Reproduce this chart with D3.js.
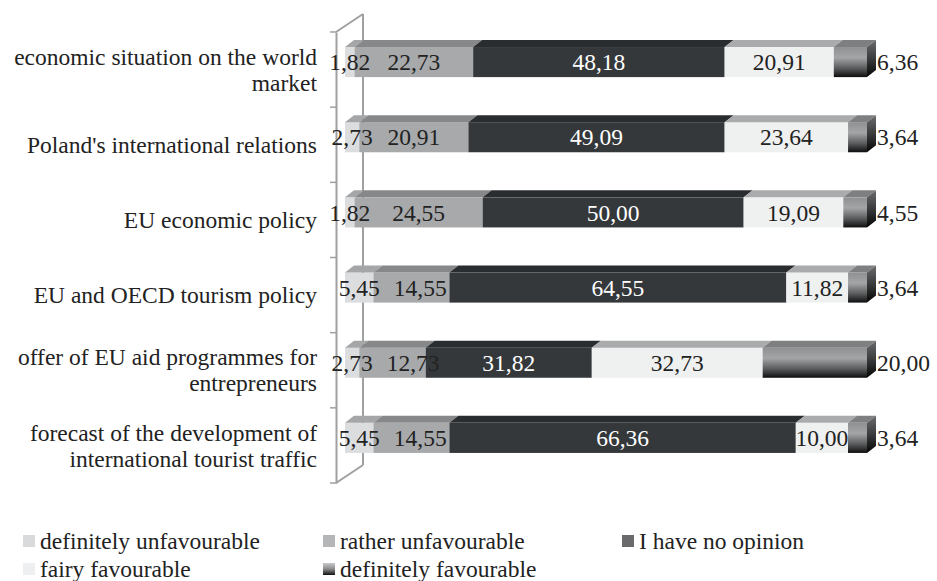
<!DOCTYPE html>
<html>
<head>
<meta charset="utf-8">
<script src="https://cdn.jsdelivr.net/npm/d3@7"></script>
</head>
<body style="margin:0">
<svg id="viz" width="937" height="581"></svg>
<script>
const categories = [
    "economic situation on the world market",
    "Poland's international relations",
    "EU economic policy",
    "EU and OECD tourism policy",
    "offer of EU aid programmes for entrepreneurs",
    "forecast of the development of international tourist traffic"
];
const seriesNames = ["definitely unfavourable", "rather unfavourable", "I have no opinion",
                     "fairy favourable", "definitely favourable"];
const definitelyUnfav = [1.82, 2.73, 1.82, 5.45, 2.73, 5.45];
const ratherUnfav     = [22.73, 20.91, 24.55, 14.55, 12.73, 14.55];
const noOpinion       = [48.18, 49.09, 50.00, 64.55, 31.82, 66.36];
const fairyFav        = [20.91, 23.64, 19.09, 11.82, 32.73, 10.00];
const definitelyFav   = [6.36, 3.64, 4.55, 3.64, 20.00, 3.64];

const series = [definitelyUnfav, ratherUnfav, noOpinion, fairyFav, definitelyFav];

const FONT = "Liberation Serif";
const FS = 23.5;
const svg = d3.select("#viz");
const fmt = v => v.toFixed(2).replace(".", ",");
const addText = (sel) => sel.append("text")
    .attr("font-family", FONT).attr("font-size", FS);

const x = d3.scaleLinear().domain([0, 100]).range([345, 867]);
const y = d3.scaleBand().domain(categories).range([32, 483]);
const dx = 9, dy = 7;   // bar depth
const fdx = 27, fdy = 18; // floor depth

// colours: front face, top face, legend swatch
const frontFill = ["#dcdddf", "#a7a9ab", "#35383b", "#eff0f0", "url(#favFront)"];
const topFill = ["#a4a6a8", "#86888a", "#2a2d30", "#a9abad", "#7d7f81"];
const legendFill = ["#d9dadb", "#b4b6b8", "#6a6a6c", "#eeeff0", "url(#favLegend)"];

const defs = svg.append("defs");
function grad(id, stops) {
    const g = defs.append("linearGradient").attr("id", id)
        .attr("x1", 0).attr("y1", 0).attr("x2", 0).attr("y2", 1);
    stops.forEach(s => g.append("stop").attr("offset", s[0]).attr("stop-color", s[1]));
}
grad("favFront", [[0, "#8e9092"], [0.35, "#a3a5a7"], [0.7, "#5a5c5e"], [1, "#0e0e0f"]]);
grad("favSide", [[0, "#6a6c6e"], [0.5, "#3a3b3c"], [1, "#050505"]]);
grad("favLegend", [[0, "#c8c9ca"], [0.5, "#8a8b8c"], [1, "#111"]]);

// 3D frame: back wall line, front axis, floor edges
const axisColor = "#a0a0a0";
const plot = svg.append("g");
plot.append("line").attr("x1", 336 + fdx).attr("x2", 336 + fdx)
    .attr("y1", 32 - fdy).attr("y2", 483 - fdy)
    .attr("stroke", axisColor).attr("stroke-width", 2);
plot.append("line").attr("x1", 336).attr("y1", 32).attr("x2", 336 + fdx).attr("y2", 32 - fdy)
    .attr("stroke", axisColor).attr("stroke-width", 2);
plot.append("line").attr("x1", 336).attr("y1", 483).attr("x2", 336 + fdx).attr("y2", 483 - fdy)
    .attr("stroke", axisColor).attr("stroke-width", 2);

const yAxis = plot.append("g").attr("transform", "translate(336,0)")
    .call(d3.axisLeft(y).tickValues([]).tickSizeOuter(0));
yAxis.select(".domain").attr("stroke", axisColor).attr("stroke-width", 2);
const bounds = categories.map(c => y(c)).concat([y.range()[1]]);
yAxis.selectAll(".tk").data(bounds).join("line").attr("class", "tk")
    .attr("x1", -6).attr("x2", 0).attr("y1", d => d).attr("y2", d => d)
    .attr("stroke", axisColor).attr("stroke-width", 1.5);

// bars
const step = y.step();
categories.forEach((cat, i) => {
    const y0 = y(cat) + step * 0.2;
    const h = step * 0.4;
    const row = plot.append("g");
    let acc = 0;
    const segs = series.map((s, k) => {
        const a = acc; acc += s[i];
        return {k, v: s[i], x0: x(a), x1: x(Math.min(acc, 100))};
    });
    segs.forEach(d => {
        row.append("rect").attr("x", d.x0).attr("y", y0)
            .attr("width", d.x1 - d.x0).attr("height", h).attr("fill", frontFill[d.k]);
        row.append("path")
            .attr("d", `M${d.x0},${y0}L${d.x0 + dx},${y0 - dy}L${d.x1 + dx},${y0 - dy}L${d.x1},${y0}Z`)
            .attr("fill", topFill[d.k]);
    });
    const last = segs[segs.length - 1];
    row.append("path")
        .attr("d", `M${last.x1},${y0}L${last.x1 + dx},${y0 - dy}L${last.x1 + dx},${y0 + h - dy}L${last.x1},${y0 + h}Z`)
        .attr("fill", "url(#favSide)");

    // labels inside, pushed right if they collide
    let prevRight = -Infinity;
    segs.slice(0, 4).forEach(d => {
        const t = addText(row).attr("y", y0 + h / 2).attr("dy", "0.35em")
            .attr("text-anchor", "middle")
            .attr("fill", d.k === 2 ? "#ffffff" : "#222")
            .text(fmt(d.v));
        const w = t.node().getComputedTextLength();
        let cx = (d.x0 + d.x1) / 2;
        if (cx - w / 2 < prevRight + 14) cx = prevRight + 14 + w / 2;
        t.attr("x", cx);
        prevRight = cx + w / 2;
    });
    addText(row).attr("x", x(100) + dx + 1).attr("y", y0 + h / 2).attr("dy", "0.35em")
        .attr("fill", "#222").text(fmt(last.v));
});

// category labels, wrapped
function wrapLabel(str, maxW) {
    const probe = addText(svg);
    const words = str.split(" ");
    const lines = [];
    let line = [];
    words.forEach(wd => {
        line.push(wd);
        probe.text(line.join(" "));
        if (probe.node().getComputedTextLength() > maxW && line.length > 1) {
            line.pop();
            lines.push(line.join(" "));
            line = [wd];
        }
    });
    lines.push(line.join(" "));
    probe.remove();
    return lines;
}
categories.forEach(cat => {
    const lines = wrapLabel(cat, 318);
    const cy = y(cat) + step / 2;
    const lh = 26;
    const t = addText(svg).attr("text-anchor", "end").attr("fill", "#222");
    lines.forEach((ln, j) => {
        t.append("tspan").attr("x", 317)
            .attr("y", cy + (j - (lines.length - 1) / 2) * lh).attr("dy", "0.35em").text(ln);
    });
});

// legend
const legCols = [23, 323, 622];
const legRows = [541, 569];
seriesNames.forEach((name, k) => {
    const lx = legCols[k % 3], ly = legRows[Math.floor(k / 3)];
    const g = svg.append("g").attr("transform", `translate(${lx},${ly})`);
    g.append("rect").attr("x", 0).attr("y", -6).attr("width", 12).attr("height", 12).attr("fill", legendFill[k]);
    addText(g).attr("x", 17).attr("dy", "0.35em").attr("fill", "#222").text(name);
});
</script>
</body>
</html>
